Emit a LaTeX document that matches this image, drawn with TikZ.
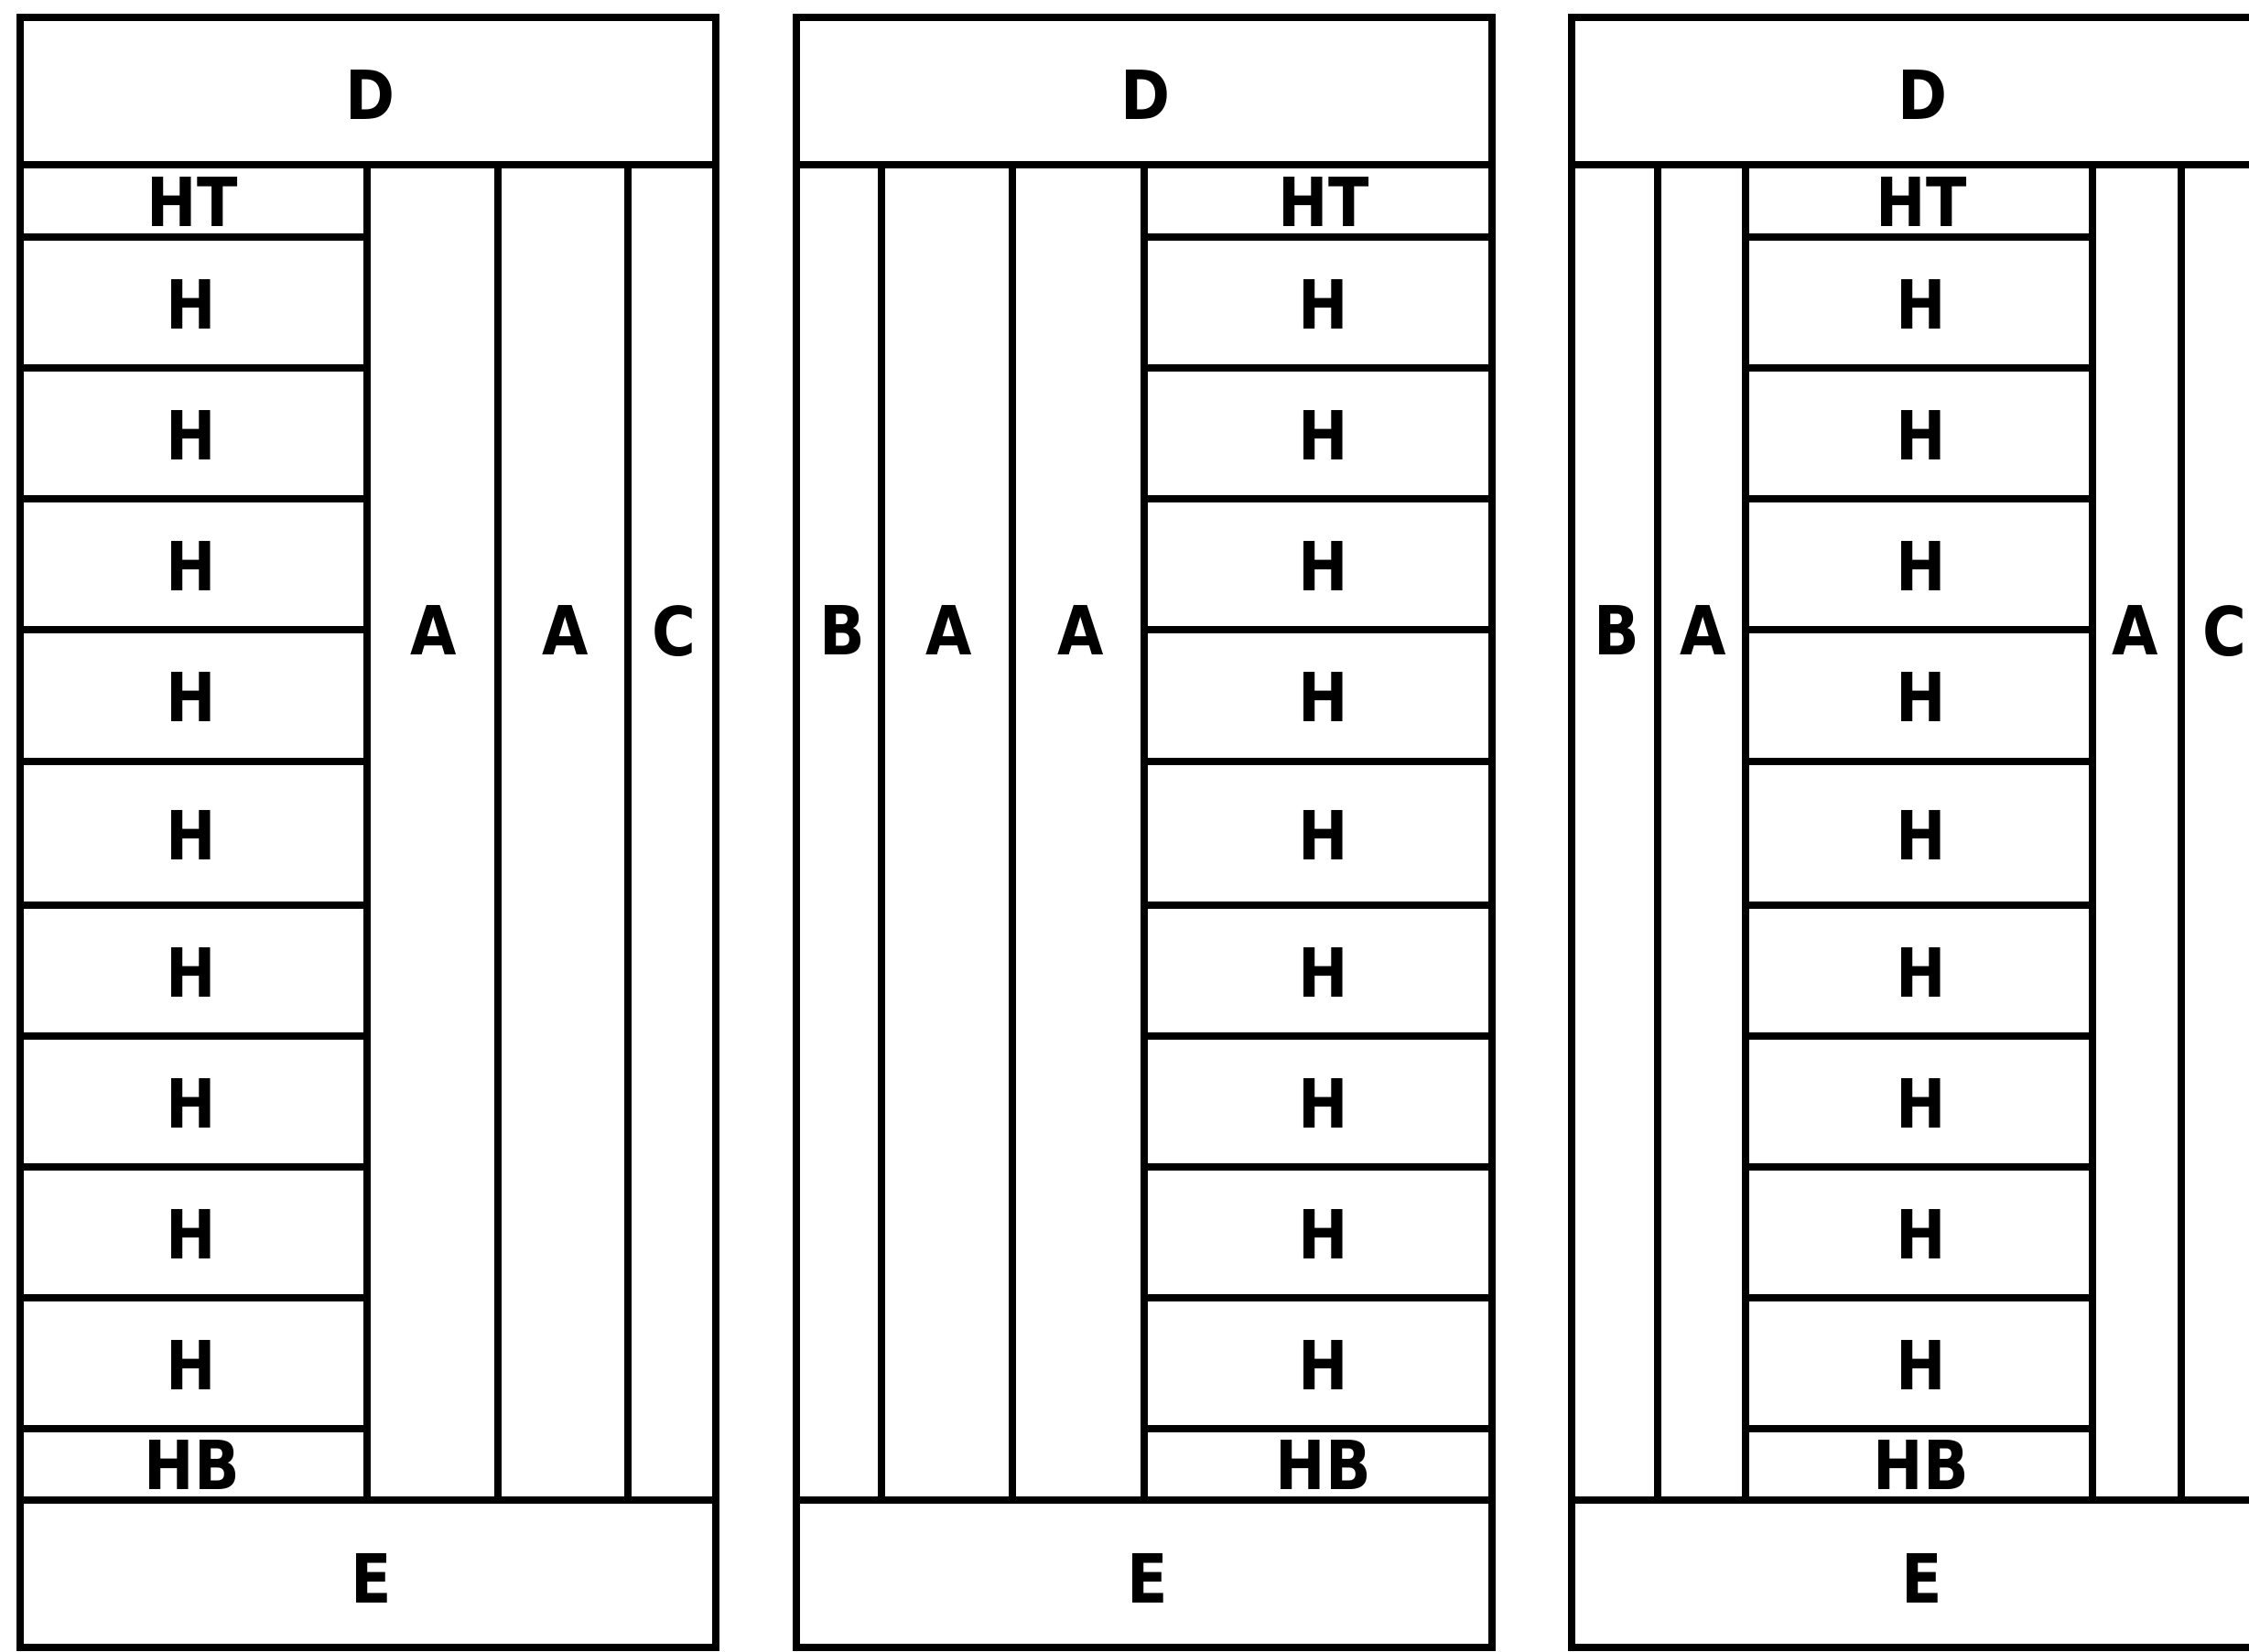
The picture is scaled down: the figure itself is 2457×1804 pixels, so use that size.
\documentclass[tikz,border=0pt]{standalone}
\usepackage{fontspec}
\setmainfont{DejaVu Sans}[FakeStretch=0.88]
\usepackage{tikz}

\tikzset{
  wall/.style={line width=8pt},
  lbl/.style={font=\fontsize{74}{80}\selectfont\bfseries, inner sep=0pt, text depth=0pt}
}

\begin{document}
\begin{tikzpicture}[x=1pt, y=-1pt]
    \useasboundingbox (0,0) rectangle (2457,1804);

    % panel 1: H stack on the left
    \draw[wall] (22,19) rectangle (782,1800);
    \draw[wall] (22,180) -- (782,180);
    \draw[wall] (22,1639) -- (782,1639);
    \foreach \x in {401,544,686}
        \draw[wall] (\x,180) -- (\x,1639);
    \foreach \y in {259,402,545,688,832,989,1132,1275,1418,1561}
        \draw[wall] (22,\y) -- (401,\y);

    \node[lbl] (d1) at (405,104) {D};
    \node[lbl] (e1) at (406,1725) {E};
    \node[lbl] (ht1) at (210,221) {HT};
    \node[lbl] (hb1) at (210,1601) {HB};
    \foreach \ya/\yb [count=\i] in {259/402,402/545,545/688,688/832,832/989,989/1132,1132/1275,1275/1418,1418/1561}
        \node[lbl] (h1-\i) at (209,{(\ya+\yb)/2+2}) {H};
    \node[lbl] (a1-1) at (474,689) {A};
    \node[lbl] (a1-2) at (618,689) {A};
    \node[lbl] (c1) at (736,689) {C};

    % panel 2: H stack on the right
    \draw[wall] (870,19) rectangle (1630,1800);
    \draw[wall] (870,180) -- (1630,180);
    \draw[wall] (870,1639) -- (1630,1639);
    \foreach \x in {963,1106,1250}
        \draw[wall] (\x,180) -- (\x,1639);
    \foreach \y in {259,402,545,688,832,989,1132,1275,1418,1561}
        \draw[wall] (1250,\y) -- (1630,\y);

    \node[lbl] (d2) at (1252,104) {D};
    \node[lbl] (e2) at (1254,1725) {E};
    \node[lbl] (ht2) at (1446,221) {HT};
    \node[lbl] (hb2) at (1446,1601) {HB};
    \foreach \ya/\yb [count=\i] in {259/402,402/545,545/688,688/832,832/989,989/1132,1132/1275,1275/1418,1418/1561}
        \node[lbl] (h2-\i) at (1446,{(\ya+\yb)/2+2}) {H};
    \node[lbl] (b2) at (920,689) {B};
    \node[lbl] (a2-1) at (1037,689) {A};
    \node[lbl] (a2-2) at (1181,689) {A};

    % panel 3: H stack in the middle
    \draw[wall] (1717,19) rectangle (2477,1800);
    \draw[wall] (1717,180) -- (2477,180);
    \draw[wall] (1717,1639) -- (2477,1639);
    \foreach \x in {1811,1907,2285.5,2383}
        \draw[wall] (\x,180) -- (\x,1639);
    \foreach \y in {259,402,545,688,832,989,1132,1275,1418,1561}
        \draw[wall] (1907,\y) -- (2285.5,\y);

    \node[lbl] (d3) at (2100,104) {D};
    \node[lbl] (e3) at (2100,1725) {E};
    \node[lbl] (ht3) at (2099,221) {HT};
    \node[lbl] (hb3) at (2099,1601) {HB};
    \foreach \ya/\yb [count=\i] in {259/402,402/545,545/688,688/832,832/989,989/1132,1132/1275,1275/1418,1418/1561}
        \node[lbl] (h3-\i) at (2099,{(\ya+\yb)/2+2}) {H};
    \node[lbl] (b3) at (1766,689) {B};
    \node[lbl] (a3-1) at (1861,689) {A};
    \node[lbl] (a3-2) at (2333,689) {A};
    \node[lbl] (c3) at (2430,689) {C};
\end{tikzpicture}
\end{document}
